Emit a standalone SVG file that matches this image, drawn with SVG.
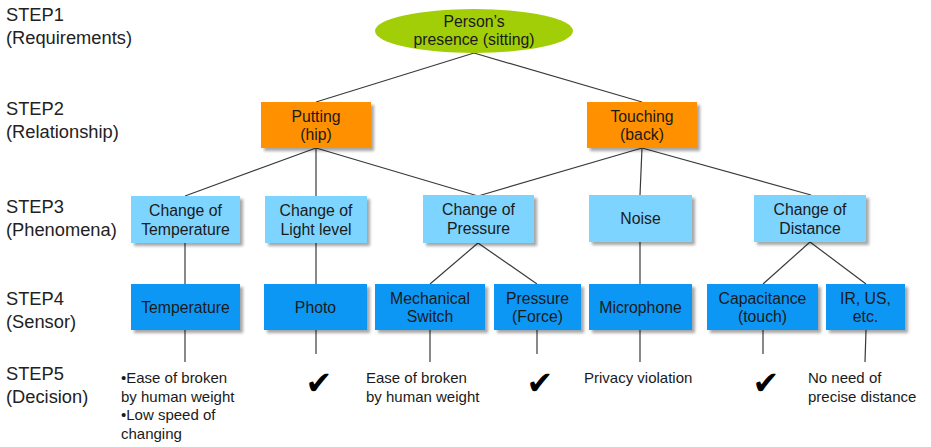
<svg xmlns="http://www.w3.org/2000/svg" width="931" height="447" viewBox="0 0 931 447">
<defs>
<filter id="sh" x="-10%" y="-10%" width="125%" height="130%">
<feGaussianBlur in="SourceAlpha" stdDeviation="1.6"/>
<feOffset dx="3" dy="3" result="b"/>
<feComponentTransfer><feFuncA type="linear" slope="0.35"/></feComponentTransfer>
<feMerge><feMergeNode/><feMergeNode in="SourceGraphic"/></feMerge>
</filter>
</defs>
<style>
text{font-family:"Liberation Sans",Arial,sans-serif;fill:#1a1a1a}
.step{font-size:18.3px;fill:#222}
.n{font-size:15.8px;text-anchor:middle}
.d{font-size:15px}
.ck{font-family:"DejaVu Sans",sans-serif;font-size:32px;text-anchor:middle;fill:#000}
.o{fill:#FF9100;filter:url(#sh)}
.lb{fill:#7DD4FF;filter:url(#sh)}
.b{fill:#0C97F5;filter:url(#sh)}
.c line{stroke:#3a3a3a;stroke-width:1.2}
</style>
<rect width="931" height="447" fill="#fff"/>
<g id="labels">
<text class="step" x="6" y="21">STEP1</text>
<text class="step" x="6" y="44">(Requirements)</text>
<text class="step" x="6" y="115">STEP2</text>
<text class="step" x="6" y="138">(Relationship)</text>
<text class="step" x="6" y="213">STEP3</text>
<text class="step" x="6" y="236">(Phenomena)</text>
<text class="step" x="6" y="305">STEP4</text>
<text class="step" x="6" y="328">(Sensor)</text>
<text class="step" x="6" y="380">STEP5</text>
<text class="step" x="6" y="403">(Decision)</text>
</g>
<g class="c" id="connectors">
<line x1="474" y1="53" x2="316" y2="102"/>
<line x1="474" y1="53" x2="642" y2="102"/>
<line x1="316" y1="148" x2="185" y2="196"/>
<line x1="316" y1="148" x2="316" y2="196"/>
<line x1="316" y1="148" x2="478" y2="196"/>
<line x1="642" y1="148" x2="478" y2="196"/>
<line x1="642" y1="148" x2="640" y2="195"/>
<line x1="642" y1="148" x2="811" y2="195"/>
<line x1="185" y1="243" x2="185" y2="284"/>
<line x1="316" y1="243" x2="316" y2="284"/>
<line x1="478" y1="243" x2="430" y2="284"/>
<line x1="478" y1="243" x2="537" y2="284"/>
<line x1="640" y1="242" x2="640" y2="284"/>
<line x1="810" y1="242" x2="763" y2="284"/>
<line x1="810" y1="242" x2="866" y2="284"/>
<line x1="185" y1="330" x2="185" y2="362"/>
<line x1="316" y1="330" x2="316" y2="354"/>
<line x1="430" y1="330" x2="430" y2="362"/>
<line x1="537" y1="330" x2="537" y2="354"/>
<line x1="640" y1="330" x2="640" y2="362"/>
<line x1="763" y1="330" x2="763" y2="354"/>
<line x1="866" y1="330" x2="865" y2="362"/>
</g>
<g id="n-person">
<ellipse cx="474" cy="31" rx="99" ry="22" fill="#A2CE08"/>
<text class="n" x="474" y="27">Person’s</text>
<text class="n" x="474" y="45">presence (sitting)</text>
</g>
<g id="n-putting">
<rect class="o" x="261" y="102" width="110" height="46"/>
<text class="n" x="316" y="122">Putting</text>
<text class="n" x="316" y="140">(hip)</text>
</g>
<g id="n-touching">
<rect class="o" x="587" y="102" width="110" height="46"/>
<text class="n" x="642" y="122">Touching</text>
<text class="n" x="642" y="140">(back)</text>
</g>
<g id="n-chtemp">
<rect class="lb" x="131" y="196" width="109" height="47"/>
<text class="n" x="185.5" y="216">Change of</text>
<text class="n" x="185.5" y="235">Temperature</text>
</g>
<g id="n-chlight">
<rect class="lb" x="265" y="196" width="102" height="47"/>
<text class="n" x="316" y="216">Change of</text>
<text class="n" x="316" y="235">Light level</text>
</g>
<g id="n-chpress">
<rect class="lb" x="423" y="195" width="111" height="48"/>
<text class="n" x="478.5" y="215">Change of</text>
<text class="n" x="478.5" y="234">Pressure</text>
</g>
<g id="n-noise">
<rect class="lb" x="589" y="195" width="103" height="47"/>
<text class="n" x="640.5" y="224">Noise</text>
</g>
<g id="n-chdist">
<rect class="lb" x="754" y="195" width="112" height="47"/>
<text class="n" x="810" y="215">Change of</text>
<text class="n" x="810" y="234">Distance</text>
</g>
<g id="n-temperature">
<rect class="b" x="131" y="284" width="109" height="46"/>
<text class="n" x="185.5" y="312.5">Temperature</text>
</g>
<g id="n-photo">
<rect class="b" x="264" y="284" width="103" height="46"/>
<text class="n" x="315.5" y="312.5">Photo</text>
</g>
<g id="n-mech">
<rect class="b" x="375" y="284" width="110" height="46"/>
<text class="n" x="430" y="304">Mechanical</text>
<text class="n" x="430" y="322">Switch</text>
</g>
<g id="n-pforce">
<rect class="b" x="494" y="284" width="87" height="46"/>
<text class="n" x="537.5" y="304">Pressure</text>
<text class="n" x="537.5" y="322">(Force)</text>
</g>
<g id="n-mic">
<rect class="b" x="589" y="284" width="103" height="46"/>
<text class="n" x="640.5" y="312.5">Microphone</text>
</g>
<g id="n-cap">
<rect class="b" x="707" y="284" width="111" height="46"/>
<text class="n" x="762.5" y="304">Capacitance</text>
<text class="n" x="762.5" y="322">(touch)</text>
</g>
<g id="n-ir">
<rect class="b" x="826" y="284" width="79" height="46"/>
<text class="n" x="865.5" y="304">IR, US,</text>
<text class="n" x="865.5" y="322">etc.</text>
</g>
<g id="decisions">
<text class="d" x="121" y="383">•Ease of broken</text>
<text class="d" x="121" y="401.5">by human weight</text>
<text class="d" x="121" y="420">•Low speed of</text>
<text class="d" x="121" y="438.5">changing</text>
<text class="ck" x="319" y="394">✔</text>
<text class="d" x="366" y="383">Ease of broken</text>
<text class="d" x="366" y="401.5">by human weight</text>
<text class="ck" x="540" y="394">✔</text>
<text class="d" x="584" y="383">Privacy violation</text>
<text class="ck" x="766" y="394">✔</text>
<text class="d" x="808" y="383">No need of</text>
<text class="d" x="808" y="401.5">precise distance</text>
</g>
</svg>
